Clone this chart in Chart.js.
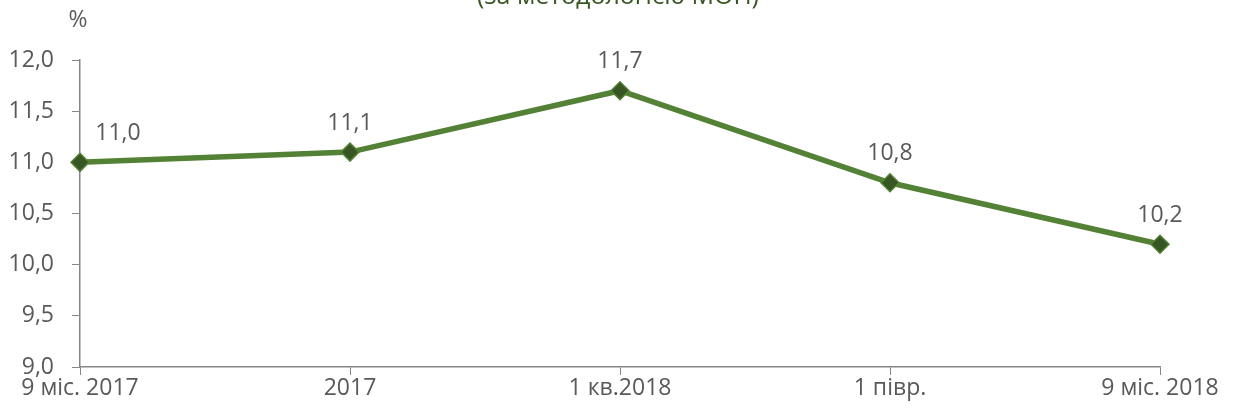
<!DOCTYPE html>
<html>
<head>
<meta charset="utf-8">
<script src="https://cdn.jsdelivr.net/npm/chart.js@4"></script>
<style>
  html, body { margin: 0; padding: 0; background: #fff; }
  #wrap { width: 1234px; height: 415px; }
</style>
</head>
<body>
<div id="wrap"><canvas id="rateChart" width="1234" height="415"></canvas></div>
<script>
const periods = ['9 міс. 2017', '2017', '1 кв.2018', '1 півр.', '9 міс. 2018']
const rates = [11.0, 11.1, 11.7, 10.8, 10.2]
const yTicks = [9.0, 9.5, 10.0, 10.5, 11.0, 11.5, 12.0]

const ctx = document.getElementById('rateChart').getContext('2d')
const textColor = '#595959'
const axisColor = '#868686'
const fontFamily = '"Open Sans", "Noto Sans", sans-serif'

function fmt (v) {
  return v.toFixed(1).replace('.', ',')
}

// labels above each point, title remnant and the % unit
const extras = {
  id: 'extras',
  afterDatasetsDraw (chart) {
    const c = chart.ctx
    const meta = chart.getDatasetMeta(0)
    c.save()
    c.font = '23px ' + fontFamily
    c.fillStyle = textColor
    c.textAlign = 'center'
    c.textBaseline = 'middle'
    meta.data.forEach((pt, i) => {
      const dx = i === 0 ? 38 : 0
      c.fillText(fmt(rates[i]), pt.x + dx, pt.y - 29)
    })
    c.fillText('%', 78, 20)
    c.font = '25px ' + fontFamily
    c.fillStyle = '#375623'
    c.textBaseline = 'alphabetic'
    c.fillText('(за методологією МОП)', 618, 4)
    c.restore()
  }
}

new Chart(ctx, {
  type: 'line',
  data: {
    labels: periods,
    datasets: [
      {
        data: rates,
        borderColor: '#538135',
        borderWidth: 5.5,
        tension: 0,
        pointStyle: 'rectRot',
        pointRadius: 9,
        pointBackgroundColor: '#375623',
        pointBorderColor: '#538135',
        pointBorderWidth: 1.5
      }
    ]
  },
  options: {
    responsive: false,
    animation: false,
    layout: { padding: { top: 60, right: 74, left: 0, bottom: 0 } },
    plugins: { legend: { display: false }, tooltip: { enabled: false } },
    scales: {
      x: {
        offset: false,
        grid: { drawOnChartArea: false, tickLength: 8, color: axisColor, tickColor: axisColor },
        border: { color: axisColor, width: 1.5 },
        ticks: { color: textColor, font: { size: 23, family: fontFamily }, padding: 0, maxRotation: 0, autoSkip: false },
        afterFit: s => { s.height = 48 }
      },
      y: {
        min: 9,
        max: 12,
        afterBuildTicks: s => { s.ticks = yTicks.map(v => ({ value: v })) },
        grid: { drawOnChartArea: false, tickLength: 8, color: axisColor, tickColor: axisColor },
        border: { color: axisColor, width: 1.5 },
        ticks: { color: textColor, font: { size: 23, family: fontFamily }, padding: 18, callback: v => fmt(v) },
        afterFit: s => { s.width = 80 }
      }
    }
  },
  plugins: [extras]
})
</script>
</body>
</html>
